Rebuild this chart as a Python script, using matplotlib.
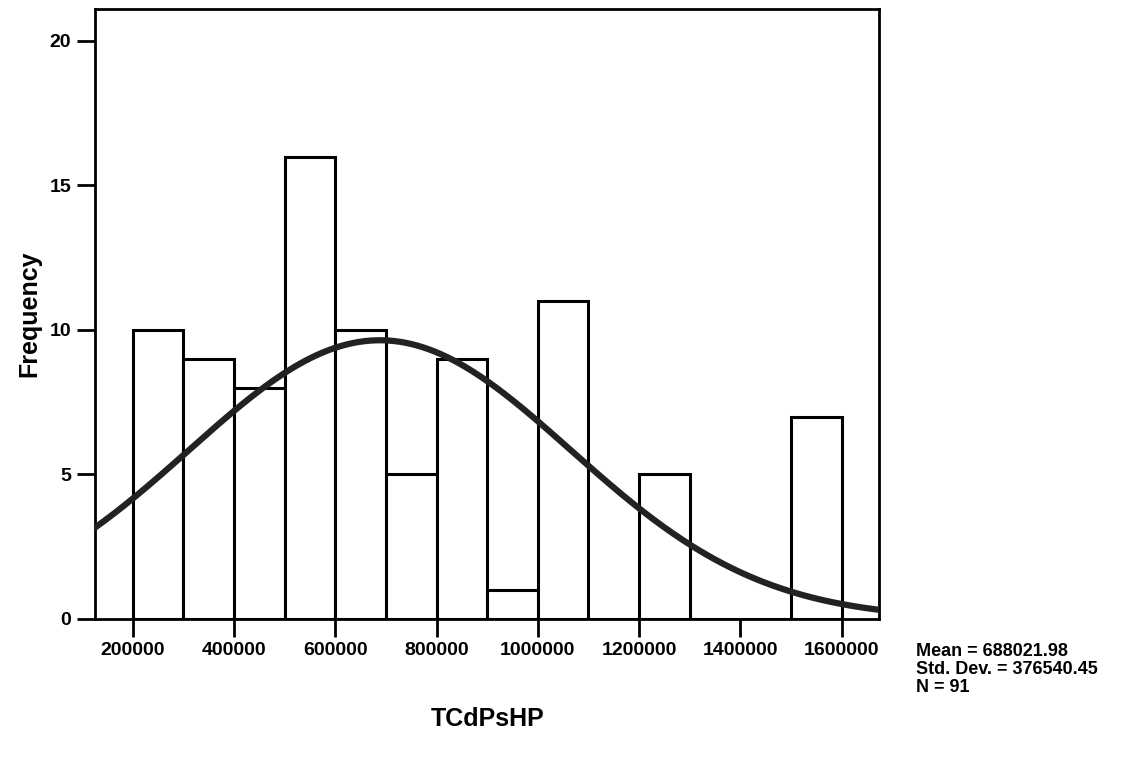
import numpy as np
import matplotlib.pyplot as plt

plt.rcParams["font.family"] = ["Liberation Sans", "DejaVu Sans"]
plt.rcParams["font.weight"] = "bold"

# histogram bins (left edges) and counts
bin_edges = [200000, 300000, 400000, 500000, 600000, 700000, 800000,
             900000, 1000000, 1100000, 1200000, 1300000, 1400000, 1500000, 1600000]
counts = [10, 9, 8, 16, 10, 5, 9, 1, 11, 0, 5, 0, 0, 7]

mean = 688021.98
std = 376540.45
n = 91

x_ticks = [200000, 400000, 600000, 800000, 1000000, 1200000, 1400000, 1600000]
y_ticks = [0, 5, 10, 15, 20]

fig = plt.figure(figsize=(11.29, 7.64), dpi=100)
ax = fig.add_axes([0.084, 0.19, 0.695, 0.798])

lefts = np.array(bin_edges[:-1])
widths = np.diff(bin_edges)
ax.bar(lefts, counts, width=widths, align="edge", facecolor="white",
       edgecolor="black", linewidth=2.2, zorder=2)

xmin, xmax = 125000, 1675000
xs = np.linspace(xmin, xmax, 400)
binw = 100000
ys = n * binw / (std * np.sqrt(2 * np.pi)) * np.exp(-0.5 * ((xs - mean) / std) ** 2)
ax.plot(xs, ys, color="#222222", linewidth=4.5, zorder=3)

ax.set_xlim(xmin, xmax)
ax.set_ylim(0, 21.1)
ax.set_xticks(x_ticks)
ax.set_xticklabels([str(v) for v in x_ticks])
ax.set_yticks(y_ticks)

for s in ax.spines.values():
    s.set_linewidth(2)
ax.tick_params(axis="both", direction="out", length=13, width=2, labelsize=14, pad=4)

ax.set_xlabel("TCdPsHP", fontsize=18, fontweight="bold", labelpad=34)
ax.set_ylabel("Frequency", fontsize=18, fontweight="bold", labelpad=6)

fig.text(0.811, 0.158,
         "Mean = 688021.98\nStd. Dev. = 376540.45\nN = 91",
         fontsize=13, fontweight="bold", va="top", ha="left", linespacing=1.05)

fig.savefig("out.png", dpi=100)
